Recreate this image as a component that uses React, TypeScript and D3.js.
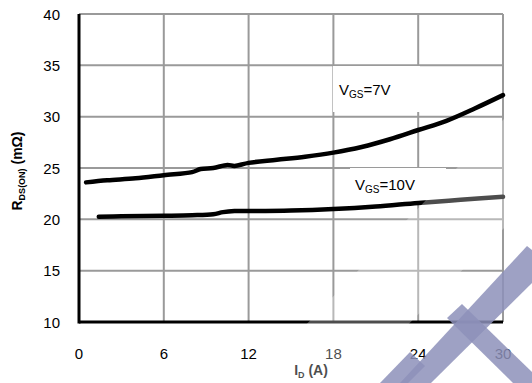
import { useEffect, useRef } from "react";
import * as d3 from "d3";

// I_D (A) vs R_DS(ON) (mOhm)
const id7 = [0.5, 2, 4, 6, 8, 8.6, 9.5, 10.5, 11, 12, 14, 16, 18, 20, 22, 24, 26, 28, 30];
const r7 = [23.6, 23.8, 24.0, 24.3, 24.6, 24.9, 25.0, 25.3, 25.2, 25.5, 25.8, 26.1, 26.5, 27.05, 27.8, 28.7, 29.6, 30.8, 32.1];
const id10 = [1.4, 3, 6, 8, 9.5, 10.2, 11, 12, 15, 18, 21, 24, 27, 30];
const r10 = [20.25, 20.3, 20.35, 20.4, 20.5, 20.7, 20.8, 20.8, 20.85, 21.0, 21.25, 21.6, 21.9, 22.2];
const xTicks = [0, 6, 12, 18, 24, 30];
const yTicks = [10, 15, 20, 25, 30, 35, 40];

export default function App() {
  const ref = useRef<SVGSVGElement>(null);

  useEffect(() => {
    const svg = d3.select(ref.current);
    svg.selectAll("*").remove();

    const x = d3.scaleLinear().domain([0, 30]).range([79, 503]);
    const y = d3.scaleLinear().domain([10, 40]).range([322, 14]);
    const font = "Liberation Sans, Arial, sans-serif";

    // grid
    svg.append("g")
      .selectAll("line.v")
      .data(xTicks.slice(1))
      .enter()
      .append("line")
      .attr("x1", (d) => x(d))
      .attr("x2", (d) => x(d))
      .attr("y1", y(40))
      .attr("y2", y(10))
      .attr("stroke", "#9a9a9a")
      .attr("stroke-width", 2);
    svg.append("g")
      .selectAll("line.h")
      .data(yTicks.slice(1))
      .enter()
      .append("line")
      .attr("x1", x(0))
      .attr("x2", x(30))
      .attr("y1", (d) => y(d))
      .attr("y2", (d) => y(d))
      .attr("stroke", "#9a9a9a")
      .attr("stroke-width", 2);

    // white boxes behind the labels
    svg.append("rect").attr("x", 333).attr("y", 66).attr("width", 87).attr("height", 46).attr("fill", "white");
    svg.append("rect").attr("x", 350).attr("y", 168).attr("width", 96).attr("height", 34).attr("fill", "white");

    // axes
    svg.append("line").attr("x1", x(0)).attr("x2", x(0)).attr("y1", y(40)).attr("y2", y(10) + 1.5)
      .attr("stroke", "black").attr("stroke-width", 3);
    svg.append("line").attr("x1", x(0)).attr("x2", x(30)).attr("y1", y(10)).attr("y2", y(10))
      .attr("stroke", "black").attr("stroke-width", 3);

    // curves
    const line = d3.line<[number, number]>()
      .x((d) => x(d[0]))
      .y((d) => y(d[1]))
      .curve(d3.curveCatmullRom.alpha(0.5));
    svg.append("path")
      .attr("d", line(id7.map((d, i) => [d, r7[i]]))!)
      .attr("fill", "none").attr("stroke", "black").attr("stroke-width", 4.5).attr("stroke-linecap", "round");
    svg.append("path")
      .attr("d", line(id10.map((d, i) => [d, r10[i]]))!)
      .attr("fill", "none").attr("stroke", "black").attr("stroke-width", 4.5).attr("stroke-linecap", "round");

    // tick labels
    svg.append("g")
      .selectAll("text")
      .data(yTicks)
      .enter()
      .append("text")
      .attr("x", 60)
      .attr("y", (d) => y(d) + 5.5)
      .attr("text-anchor", "end")
      .style("font-family", font)
      .style("font-size", "15px")
      .text((d) => d);
    svg.append("g")
      .selectAll("text")
      .data(xTicks)
      .enter()
      .append("text")
      .attr("x", (d) => x(d))
      .attr("y", 359)
      .attr("text-anchor", "middle")
      .style("font-family", font)
      .style("font-size", "15px")
      .text((d) => d);

    // series labels
    const lab = (tx: number, ty: number, tail: string) => {
      const t = svg.append("text").attr("x", tx).attr("y", ty)
        .style("font-family", font).style("font-size", "15px");
      t.append("tspan").text("V");
      t.append("tspan").attr("dy", 3).style("font-size", "10px").text("GS");
      t.append("tspan").attr("dy", -3).text(tail);
    };
    lab(339, 95, "=7V");
    lab(355, 190, "=10V");

    // axis titles
    const xt = svg.append("text").attr("x", 311).attr("y", 375).attr("text-anchor", "middle")
      .style("font-family", font).style("font-size", "14px").style("font-weight", "bold");
    xt.append("tspan").text("I");
    xt.append("tspan").attr("dy", 3).style("font-size", "9px").text("D");
    xt.append("tspan").attr("dy", -3).text(" (A)");

    const yt = svg.append("text").attr("transform", "translate(22,171) rotate(-90)").attr("text-anchor", "middle")
      .style("font-family", font).style("font-size", "14px").style("font-weight", "bold");
    yt.append("tspan").text("R");
    yt.append("tspan").attr("dy", 3).style("font-size", "9px").text("DS(ON)");
    yt.append("tspan").attr("dy", -3).text(" (mΩ)");

    // watermark
    const wm = svg.append("g");
    wm.append("polygon").attr("points", "250,383 532,90 532,200 350,383").attr("fill", "white").attr("opacity", 0.3);
    wm.append("polygon").attr("points", "400,383 527,246 532,250 532,283 431,383").attr("fill", "#8d91ba").attr("opacity", 0.85);
    wm.append("polygon").attr("points", "447,318 462,304 532,372 532,383 513,383").attr("fill", "#8d91ba").attr("opacity", 0.85);
    wm.append("polygon").attr("points", "380,383 410,352 425,366 408,383").attr("fill", "#8d91ba").attr("opacity", 0.85);
  }, []);

  return (
    <svg ref={ref} width={532} height={383} style={{ position: "absolute", left: 0, top: 0, background: "white" }} />
  );
}
